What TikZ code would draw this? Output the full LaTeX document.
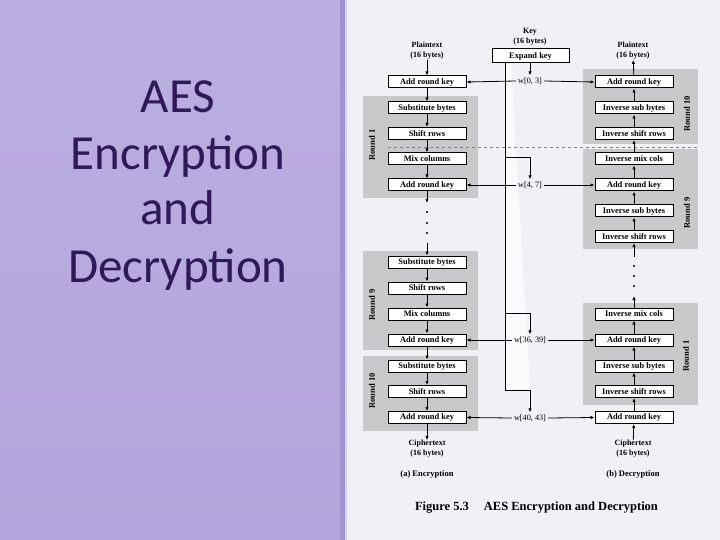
\documentclass[tikz,border=0pt]{standalone}
\usepackage{fontspec}
\setmainfont{Liberation Serif}
\newfontfamily\titlefont{Carlito}
\usetikzlibrary{arrows.meta}
\definecolor{lav}{HTML}{B3A5DB}
\definecolor{lavtop}{HTML}{BBAEE1}
\definecolor{lavdark}{HTML}{A192D1}
\definecolor{lavlight}{HTML}{D6CFEE}
\definecolor{paper}{HTML}{F1F0F5}
\definecolor{regiongray}{HTML}{C9C9CB}
\definecolor{titlecol}{HTML}{2E1A57}
\tikzset{
  opbox/.style={draw=black, fill=white, line width=1pt, minimum width=78pt, minimum height=12pt, inner sep=0pt, font=\fontsize{8.4}{9}\selectfont\bfseries},
  region/.style={fill=regiongray},
  flow/.style={line width=0.8pt, -{Latex[length=4pt,width=3.4pt]}},
  plainln/.style={line width=0.8pt},
  lbl/.style={font=\fontsize{8}{10}\selectfont\bfseries, align=center, inner sep=0pt},
  keylbl/.style={font=\fontsize{8.2}{9}\selectfont, inner sep=2pt},
  roundlbl/.style={font=\fontsize{8.5}{10}\selectfont\bfseries, rotate=90, inner sep=0pt},
  titleline/.style={font=\titlefont\fontsize{49}{52}\selectfont, text=titlecol, anchor=base},
  dotmark/.style={circle, fill=black, inner sep=0pt, minimum size=2.2pt},
}
\begin{document}
\begin{tikzpicture}[x=1pt,y=-1pt]
\useasboundingbox (0,0) rectangle (720,540);
% backgrounds
\shade[top color=lavtop, bottom color=lav] (0,0) rectangle (341,540);
\fill[lavdark] (340,0) rectangle (345,540);
\fill[lavlight] (345,0) rectangle (347,540);
\fill[paper] (347,0) rectangle (720,540);

% title
\node[titleline] (t1) at (178,113) {AES};
\node[titleline] (t2) at (178,170) {Encryption};
\node[titleline] (t3) at (178,225) {and};
\node[titleline] (t4) at (178,282) {Decryption};

% round regions (encryption)
\fill[region] (363,96) rectangle (478,198);
\fill[region] (363,251) rectangle (478,350);
\fill[region] (363,356) rectangle (478,431);
% round regions (decryption)
\fill[region] (583,69) rectangle (698,144);
\fill[region] (583,149) rectangle (698,249);
\fill[region] (583,303) rectangle (698,405);

% faint white wedge beside the key line
\fill[white, opacity=0.7] (506,64) -- (511,64) -- (530,389) -- (506,389) -- cycle;

% dashed separator
\draw[gray, dashed, line width=0.5pt] (388,147) -- (698,147);

% round labels
\node[roundlbl] (r1e) at (372,145) {Round 1};
\node[roundlbl] (r9e) at (372,305) {Round 9};
\node[roundlbl] (r10e) at (372,391) {Round 10};
\node[roundlbl] (r10d) at (687,114) {Round 10};
\node[roundlbl] (r9d) at (687,213) {Round 9};
\node[roundlbl] (r1d) at (686,356) {Round 1};

% encryption boxes
\node[opbox] (eA0) at (427,82) {Add round key};
\node[opbox] (eS1) at (427,108) {Substitute bytes};
\node[opbox] (eR1) at (427,133.5) {Shift rows};
\node[opbox] (eM1) at (427,159) {Mix columns};
\node[opbox] (eA1) at (427,185) {Add round key};
\node[opbox] (eS9) at (427,262) {Substitute bytes};
\node[opbox] (eR9) at (427,288) {Shift rows};
\node[opbox] (eM9) at (427,314) {Mix columns};
\node[opbox] (eA9) at (427,340) {Add round key};
\node[opbox] (eS10) at (427,366) {Substitute bytes};
\node[opbox] (eR10) at (427,391.5) {Shift rows};
\node[opbox] (eA10) at (427,417.5) {Add round key};

% decryption boxes
\node[opbox] (dA10) at (634,82) {Add round key};
\node[opbox] (dB10) at (634,108) {Inverse sub bytes};
\node[opbox] (dR10) at (634,133.5) {Inverse shift rows};
\node[opbox] (dM9) at (634,159) {Inverse mix cols};
\node[opbox] (dA9) at (634,185) {Add round key};
\node[opbox] (dB9) at (634,211) {Inverse sub bytes};
\node[opbox] (dR9) at (634,236.5) {Inverse shift rows};
\node[opbox] (dM1) at (634,314) {Inverse mix cols};
\node[opbox] (dA1) at (634,340) {Add round key};
\node[opbox] (dB1) at (634,366) {Inverse sub bytes};
\node[opbox] (dR1) at (634,391.5) {Inverse shift rows};
\node[opbox] (dA0) at (634,417.5) {Add round key};

% inputs / outputs
\node[lbl] (ept) at (427,51) {Plaintext\\(16 bytes)};
\node[lbl] (ect) at (427,449) {Ciphertext\\(16 bytes)};
\node[lbl] (dpt) at (633,51) {Plaintext\\(16 bytes)};
\node[lbl] (dct) at (633,449) {Ciphertext\\(16 bytes)};
\node[lbl] (key) at (530,37) {Key\\(16 bytes)};
\node[opbox, minimum width=77pt, minimum height=14pt] (xk) at (530.5,56) {Expand key};

% captions
\node[lbl, font=\fontsize{8.5}{10}\selectfont\bfseries] (capa) at (427,474) {(a) Encryption};
\node[lbl, font=\fontsize{8.5}{10}\selectfont\bfseries] (capb) at (633,474) {(b) Decryption};
\node[lbl, font=\fontsize{12.5}{14}\selectfont\bfseries] (fig) at (536.5,508) {Figure 5.3\hspace{1.2em}AES Encryption and Decryption};

% encryption flow
\draw[flow] (ept) -- (eA0);
\draw[flow] (eA0) -- (eS1);
\draw[flow] (eS1) -- (eR1);
\draw[flow] (eR1) -- (eM1);
\draw[flow] (eM1) -- (eA1);
\coordinate (eg1) at (427,203);
\coordinate (eg2) at (427,243);
\draw[flow] (eA1) -- (eg1);
\node[dotmark] (ed1) at (427,212) {};
\node[dotmark] (ed2) at (427,223) {};
\node[dotmark] (ed3) at (427,233) {};
\draw[flow] (eg2) -- (eS9);
\draw[flow] (eS9) -- (eR9);
\draw[flow] (eR9) -- (eM9);
\draw[flow] (eM9) -- (eA9);
\draw[flow] (eA9) -- (eS10);
\draw[flow] (eS10) -- (eR10);
\draw[flow] (eR10) -- (eA10);
\draw[flow] (eA10) -- (ect);

% decryption flow (upward)
\draw[flow] (dct) -- (dA0);
\draw[flow] (dA0) -- (dR1);
\draw[flow] (dR1) -- (dB1);
\draw[flow] (dB1) -- (dA1);
\draw[flow] (dA1) -- (dM1);
\coordinate (dg1) at (634,296);
\coordinate (dg2) at (634,257);
\draw[flow] (dM1) -- (dg1);
\node[dotmark] (dd1) at (634,286) {};
\node[dotmark] (dd2) at (634,276) {};
\node[dotmark] (dd3) at (634,266) {};
\draw[flow] (dg2) -- (dR9);
\draw[flow] (dR9) -- (dB9);
\draw[flow] (dB9) -- (dA9);
\draw[flow] (dA9) -- (dM9);
\draw[flow] (dM9) -- (dR10);
\draw[flow] (dR10) -- (dB10);
\draw[flow] (dB10) -- (dA10);
\draw[flow] (dA10) -- (dpt);

% round key words
\node[keylbl] (w0) at (530,81) {w[0, 3]};
\node[keylbl] (w1) at (530,185) {w[4, 7]};
\node[keylbl] (w9) at (530,340) {w[36, 39]};
\node[keylbl] (w10) at (530,418) {w[40, 43]};
\draw[flow] (w0.west) -- (eA0.east);
\draw[flow] (w0.east) -- (dA10.west);
\draw[flow] (w1.west) -- (eA1.east);
\draw[flow] (w1.east) -- (dA9.west);
\draw[flow] (w9.west) -- (eA9.east);
\draw[flow] (w9.east) -- (dA1.west);
\draw[flow] (w10.west) -- (eA10.east);
\draw[flow] (w10.east) -- (dA0.west);

% key expansion lines
\coordinate (kv0) at (505,63);
\coordinate (kb1) at (505,157);
\coordinate (kb9) at (505,313);
\coordinate (kb10) at (505,390);
\draw[flow] (xk.south -| w0) -- (w0.north);
\draw[plainln] (kv0) -- (kb10);
\draw[flow] (kb1) -- (kb1 -| w1) -- (w1.north);
\draw[flow] (kb9) -- (kb9 -| w9) -- (w9.north);
\draw[flow] (kb10) -- (kb10 -| w10) -- (w10.north);
\end{tikzpicture}
\end{document}
